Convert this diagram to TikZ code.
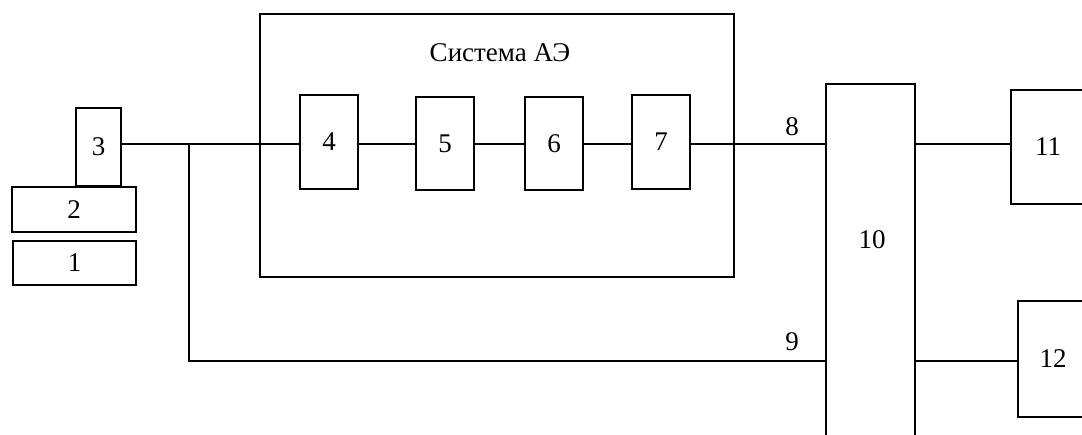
\documentclass[tikz,border=0pt]{standalone}
\usepackage{fontspec}
\setmainfont{Liberation Serif}
\begin{document}
\begin{tikzpicture}[x=1pt,y=-1pt,
  box/.style={draw,line width=1.5pt,inner sep=0pt,font=\fontsize{27}{29}\selectfont},
  wire/.style={line width=1.5pt},
  lbl/.style={font=\fontsize{27}{29}\selectfont,inner sep=0pt}]
\useasboundingbox (0,0) rectangle (1082,434);
\clip (0,0) rectangle (1082,434);
\node[box,minimum width=45,minimum height=78] (b3) at (98.5,147) {3};
\node[box,minimum width=124,minimum height=45] (b2) at (74,209.5) {2};
\node[box,minimum width=123,minimum height=44] (b1) at (74.5,263) {1};
\node[box,minimum width=474,minimum height=263] (sys) at (497,145.5) {};
\node[lbl] (systxt) at (500,53) {Система АЭ};
\node[box,minimum width=58,minimum height=94] (b4) at (329,142) {4};
\node[box,minimum width=58,minimum height=93] (b5) at (445,143.5) {5};
\node[box,minimum width=58,minimum height=93] (b6) at (554,143.5) {6};
\node[box,minimum width=58,minimum height=94] (b7) at (661,142) {7};
\node[box,minimum width=89,minimum height=386] (b10) at (870.5,277) {};
\node[lbl] (t10) at (872,240) {10};
\node[box,minimum width=74,minimum height=114] (b11) at (1048,147) {11};
\node[box,minimum width=70,minimum height=116] (b12) at (1053,359) {12};
\node[lbl] (t8) at (792,127) {8};
\node[lbl] (t9) at (792,342) {9};
\coordinate (j) at (189,144);
\coordinate (c9) at (189,361);
\draw[wire] (b3.east |- j) -- (j) -- (b4.west |- j);
\draw[wire] (j) -- (c9) -- (c9 -| b10.west);
\draw[wire] (b4.east |- j) -- (b5.west |- j);
\draw[wire] (b5.east |- j) -- (b6.west |- j);
\draw[wire] (b6.east |- j) -- (b7.west |- j);
\draw[wire] (b7.east |- j) -- (b10.west |- j);
\draw[wire] (b10.east |- j) -- (b11.west |- j);
\draw[wire] (b10.east |- c9) -- (b12.west |- c9);
\end{tikzpicture}
\end{document}
